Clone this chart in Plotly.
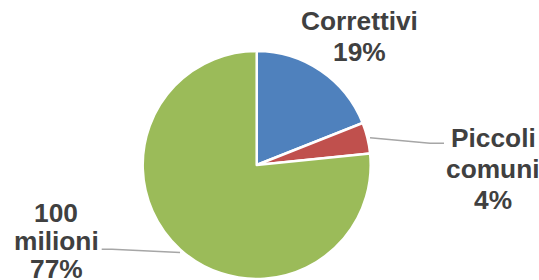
import plotly.graph_objects as go

categories = ["Correttivi", "Piccoli comuni", "100 milioni"]
values = [19.0, 4.4, 76.6]
colors = ["#4F81BD", "#C0504D", "#9BBB59"]

W, H = 539, 280
total = sum(values)
pct_labels = [f"{round(v / total * 100)}%" for v in values]

fig = go.Figure()
fig.add_trace(go.Pie(
    labels=categories,
    values=values,
    sort=False,
    direction="clockwise",
    rotation=0,
    textinfo="none",
    hoverinfo="label+percent",
    marker=dict(colors=colors, line=dict(color="white", width=2.5)),
    domain=dict(x=[(256.7 - 114) / W, (256.7 + 114) / W],
                y=[1 - 279 / H, 1 - 51 / H]),
    showlegend=False,
))

# label layout: (center x px, list of line center y px)
label_pos = {
    "Correttivi": (359.5, [21.3, 52.0]),
    "Piccoli comuni": (493, [138, 169, 200]),
    "100 milioni": (56, [213, 241, 269]),
}

annotations = []
for cat, pct in zip(categories, pct_labels):
    lines = cat.split(" ") + [pct]
    cx, ys = label_pos[cat]
    for txt, yy in zip(lines, ys):
        annotations.append(dict(
            x=cx / W, y=1 - yy / H, xref="paper", yref="paper",
            text=f"<b>{txt}</b>", showarrow=False,
            xanchor="center", yanchor="middle",
            font=dict(family="Arial, Liberation Sans, sans-serif", size=26.3, color="#404040"),
        ))

def px(x, y):
    return f"{x / W} {1 - y / H}"

shapes = [
    dict(type="path", xref="paper", yref="paper",
         path=f"M {px(370, 137.7)} L {px(430, 143.3)} L {px(444, 143.3)}",
         line=dict(color="#A6A6A6", width=1.5), layer="below"),
    dict(type="path", xref="paper", yref="paper",
         path=f"M {px(101.7, 249.3)} L {px(112, 249.3)} L {px(180, 252.5)}",
         line=dict(color="#A6A6A6", width=1.5), layer="below"),
]

fig.update_layout(
    width=W, height=H,
    margin=dict(l=0, r=0, t=0, b=0),
    paper_bgcolor="white", plot_bgcolor="white",
    annotations=annotations,
    shapes=shapes,
)

fig.write_html("out.html", config={"displayModeBar": False},
               post_script="document.body.style.margin='0';document.body.style.overflow='hidden';")
